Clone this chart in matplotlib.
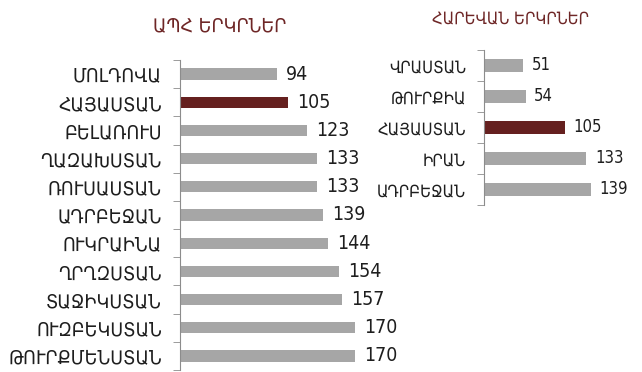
import matplotlib.pyplot as plt
import numpy as np

cis_countries = ["ՄՈԼԴՈՎԱ", "ՀԱՅԱՍՏԱՆ", "ԲԵԼԱՌՈՒՍ", "ՂԱԶԱԽՍՏԱՆ", "ՌՈՒՍԱՍՏԱՆ",
                 "ԱԴՐԲԵՋԱՆ", "ՈՒԿՐԱԻՆԱ", "ՂՐՂԶՍՏԱՆ", "ՏԱՋԻԿՍՏԱՆ",
                 "ՈՒԶԲԵԿՍՏԱՆ", "ԹՈՒՐՔՄԵՆՍՏԱՆ"]
cis_values = [94, 105, 123, 133, 133, 139, 144, 154, 157, 170, 170]

neighbor_countries = ["ՎՐԱՍՏԱՆ", "ԹՈՒՐՔԻԱ", "ՀԱՅԱՍՏԱՆ", "ԻՐԱՆ", "ԱԴՐԲԵՋԱՆ"]
neighbor_values = [51, 54, 105, 133, 139]

highlight = "ՀԱՅԱՍՏԱՆ"
GRAY = "#a6a6a6"
MAROON = "#65201f"
TITLE = "#6e2626"
TEXT = "#1e1e1e"

plt.rcParams["font.family"] = ["DejaVu Sans"]

W, H = 642, 372
fig = plt.figure(figsize=(W / 100, H / 100), dpi=100)
fig.patch.set_facecolor("white")


def panel(rect_px, names, values, title, title_xy, fs, vfs, tfs, gap):
    x0, y0, w, h = rect_px
    ax = fig.add_axes([x0 / W, 1 - (y0 + h) / H, w / W, h / H])
    n = len(names)
    y = np.arange(n)
    colors = [MAROON if c == highlight else GRAY for c in names]
    ax.barh(y, values, height=0.4, color=colors)
    ax.set_ylim(n - 0.5, -0.5)
    ax.set_xlim(0, 200)
    for s in ["top", "right", "bottom"]:
        ax.spines[s].set_visible(False)
    ax.spines["left"].set_color("#8c8c8c")
    ax.set_xticks([])
    ax.set_yticks(y)
    ax.set_yticklabels(names, fontsize=fs, color=TEXT, fontstretch="condensed")
    ax.tick_params(axis="y", which="major", length=0, pad=13)
    # small ticks between categories
    ax.set_yticks(np.arange(n + 1) - 0.5, minor=True)
    ax.tick_params(axis="y", which="minor", length=5, color="#8c8c8c")
    for yi, v in zip(y, values):
        ax.text(v + gap, yi, str(v), va="center", ha="left", fontsize=vfs,
                color=TEXT, fontstretch="condensed")
    fig.text(title_xy[0] / W, 1 - title_xy[1] / H, title, ha="center",
             va="center", fontsize=tfs, color=TITLE, fontstretch="condensed")
    return ax


panel((180, 60, 206, 310), cis_countries, cis_values,
      "ԱՊՀ ԵՐԿՐՆԵՐ", (220, 26), 14, 14, 14, 9)
panel((484, 50, 154, 155), neighbor_countries, neighbor_values,
      "ՀԱՐԵՎԱՆ ԵՐԿՐՆԵՐ", (510, 19), 12, 12, 12, 11)

fig.savefig("out.png", dpi=100)
